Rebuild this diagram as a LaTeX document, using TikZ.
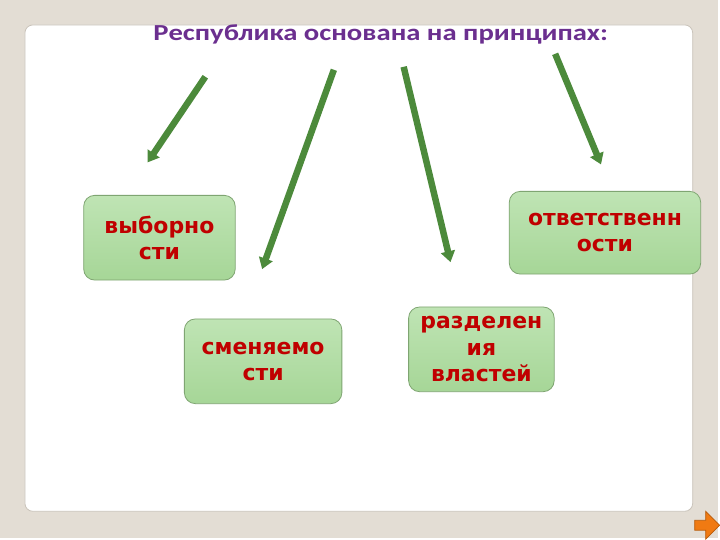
\documentclass[tikz,border=0pt]{standalone}
\usepackage{fontspec}
\setmainfont{DejaVu Sans}
\newfontfamily\titlefont[FakeStretch=1.25]{Carlito}
\usetikzlibrary{arrows.meta,positioning}
\definecolor{slidebg}{HTML}{E3DDD4}
\definecolor{panelline}{HTML}{C9C3BA}
\definecolor{titlecol}{HTML}{6B2F8F}
\definecolor{boxtext}{HTML}{C00000}
\definecolor{boxline}{HTML}{7FA572}
\definecolor{boxtop}{HTML}{BFE4B4}
\definecolor{boxmid}{HTML}{DFF2D8}
\definecolor{boxbot}{HTML}{A6D697}
\definecolor{arrcol}{HTML}{4C8A3B}
\definecolor{navfill}{HTML}{F07A12}
\definecolor{navline}{HTML}{B85A08}

\begin{document}
\begin{tikzpicture}[x=1pt, y=-1pt]
	\tikzstyle{box}=[draw=boxline, line width=0.8pt, rounded corners=11pt, top color=boxtop, middle color=boxmid, bottom color=boxbot, text=boxtext, align=center, font=\bfseries\fontsize{22}{26.5}\selectfont, minimum height=85pt, inner sep=2pt]
	\tikzstyle{arr}=[draw=arrcol, line width=6.5pt, -{Triangle[length=11pt, width=14pt]}]
	% slide
	\fill[slidebg] (0,0) rectangle (720,540);
	\filldraw[fill=white, draw=panelline, line width=0.8pt, rounded corners=8pt] (25,25) rectangle (695,513);
	\node[text=titlecol, font=\titlefont\bfseries\fontsize{23}{26}\selectfont] (title) at (382,35) {Республика основана на принципах:};
	% boxes
	\node[box, minimum width=152pt] (vybor) at (160,238.5) {выборно\\сти};
	\node[box, minimum width=158pt] (smen)  at (264,362.5) {сменяемо\\сти};
	\node[box, minimum width=146pt] (razd)  at (483,350.5) {разделен\\ия\\властей};
	\node[box, minimum width=192pt, minimum height=83pt] (otv) at (607,233.5) {ответственн\\ости};
	% arrows
	\coordinate (a1s) at (206,77);  \coordinate (a1e) at (148,163);
	\coordinate (a2s) at (335,70);  \coordinate (a2e) at (263,270);
	\coordinate (a3s) at (405,67);  \coordinate (a3e) at (452,263);
	\coordinate (a4s) at (557,54);  \coordinate (a4e) at (603,165);
	\draw[arr] (a1s) -- (a1e);
	\draw[arr] (a2s) -- (a2e);
	\draw[arr] (a3s) -- (a3e);
	\draw[arr] (a4s) -- (a4e);
	% nav button
	\filldraw[fill=navfill, draw=navline, line width=0.8pt] (697,522) -- (708,522) -- (708,513) -- (722,527) -- (708,541) -- (708,532) -- (697,532) -- cycle;
	\useasboundingbox (0,0) rectangle (720,540);
\end{tikzpicture}
\end{document}
